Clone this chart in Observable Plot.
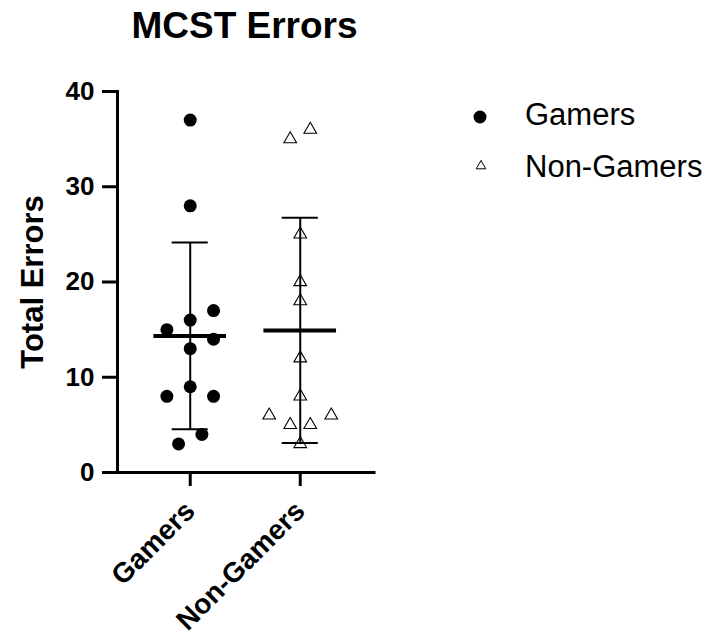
<!DOCTYPE html>
<html>
<head>
<meta charset="utf-8">
<script src="https://cdn.jsdelivr.net/npm/d3@7"></script>
<script src="https://cdn.jsdelivr.net/npm/@observablehq/plot@0.6"></script>
<style>
  body { margin: 0; background: #fff; }
  #wrap { position: relative; width: 710px; height: 640px; font-family: Arial, "Liberation Sans", Helvetica, sans-serif; color: #000; }
  #title { position: absolute; left: 0; width: 489px; top: 7px; text-align: center; font-size: 37px; line-height: 37px; font-weight: bold; }
  #chart { position: absolute; left: 0; top: 0; }
  .leg { position: absolute; left: 525px; font-size: 31px; line-height: 31px; white-space: nowrap; }
  .sym { position: absolute; }
</style>
</head>
<body>
<div id="wrap">
  <div id="chart"></div>
  <div id="title">MCST Errors</div>
  <svg class="sym" style="left:470px;top:107px" width="20" height="20"><circle cx="10" cy="10" r="6.5" fill="#000"/></svg>
  <div class="leg" style="top:99px">Gamers</div>
  <svg class="sym" style="left:471px;top:156px" width="20" height="20"><path d="M10,4.5L14.8,12.8L5.2,12.8Z" fill="#fff" stroke="#000" stroke-width="1"/></svg>
  <div class="leg" style="top:150.5px">Non-Gamers</div>
</div>
<script>
// ---- data ----
const groups = ["Gamers", "Non-Gamers"];
const gamers = [37, 28, 17, 16, 15, 14, 13, 9, 8, 8, 4, 3];
const gamersJitter = [0, 0, 1, 0, -1, 1, 0, 0, -1, 1, 0.5, -0.5];
const nonGamers = [36, 35, 25, 20, 18, 12, 8, 6, 6, 5, 5, 3];
const nonGamersJitter = [0.43, -0.43, 0, 0, 0, 0, 0, -1.33, 1.33, -0.43, 0.43, 0];
const yTicks = [0, 10, 20, 30, 40];

// ---- build tables ----
const spread = 0.212;
const series = [gamers, nonGamers];
const jitters = [gamersJitter, nonGamersJitter];
const points = series.map((vals, g) => vals.map((v, i) => ({group: g, value: v, x: g + jitters[g][i] * spread})));
const stats = series.map((vals, g) => {
  const m = d3.mean(vals), s = d3.deviation(vals);
  return {group: g, mean: m, lo: m - s, hi: m + s};
});

const meanHalf = 0.33, capHalf = 0.164;

const plot = Plot.plot({
  width: 460,
  height: 640,
  marginTop: 91,
  marginBottom: 168,
  marginLeft: 117,
  marginRight: 86,
  style: {fontFamily: "Arial, 'Liberation Sans', Helvetica, sans-serif", color: "#000", background: "transparent"},
  x: {domain: [-0.661, 1.675]},
  y: {domain: [0, 40]},
  marks: [
    Plot.dot(points[0], {x: "x", y: "value", r: 6.5, fill: "#000"}),
    Plot.dot(points[1], {x: "x", y: "value", symbol: "triangle", r: 4.7, fill: "none", stroke: "#000", strokeWidth: 1.1}),
    Plot.ruleX(stats, {x: "group", y1: "lo", y2: "hi", strokeWidth: 2, stroke: "#000"}),
    Plot.ruleY(stats, {y: "hi", x1: d => d.group - capHalf, x2: d => d.group + capHalf, strokeWidth: 2, stroke: "#000"}),
    Plot.ruleY(stats, {y: "lo", x1: d => d.group - capHalf, x2: d => d.group + capHalf, strokeWidth: 2, stroke: "#000"}),
    Plot.ruleY(stats, {y: "mean", x1: d => d.group - meanHalf, x2: d => d.group + meanHalf, strokeWidth: 4, stroke: "#000"}),
    Plot.axisY({ticks: yTicks, tickSize: 15, strokeWidth: 3, tickPadding: 8, fontSize: 26, fontWeight: "bold", label: null}),
    Plot.axisX({ticks: [0, 1], tickFormat: i => groups[i], tickRotate: -45, tickSize: 14, strokeWidth: 3, tickPadding: 20, fontSize: 28, fontWeight: "bold", label: null}),
    Plot.ruleY([0], {strokeWidth: 3, stroke: "#000", strokeLinecap: "square"}),
    Plot.frame({anchor: "left", strokeWidth: 3, stroke: "#000", strokeLinecap: "square"}),
    Plot.text(["Total Errors"], {frameAnchor: "left", textAnchor: "middle", rotate: -90, dx: -84, fontSize: 31, fontWeight: "bold", fill: "#000"})
  ]
});
document.getElementById("chart").appendChild(plot);
</script>
</body>
</html>
